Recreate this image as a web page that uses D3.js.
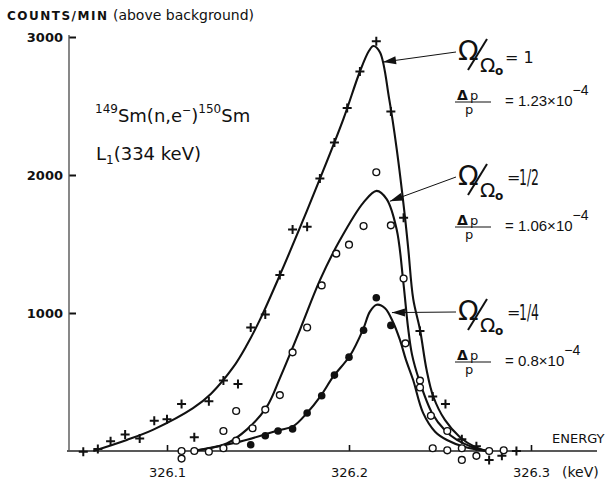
<!DOCTYPE html>
<html>
<head>
<meta charset="utf-8">
<script src="https://cdn.jsdelivr.net/npm/d3@7"></script>
<style>
  body { margin: 0; background: #fff; }
  svg text { font-family: "DejaVu Sans", sans-serif; fill: #111; }
</style>
</head>
<body>
<div id="chart"></div>
<script>
// measured points, (energy keV, counts/min)
var plusPts = [
  [326.054, -5], [326.062, 15], [326.069, 70], [326.077, 120], [326.085, 90],
  [326.093, 220], [326.100, 230], [326.108, 340], [326.115, 100], [326.123, 360],
  [326.131, 510], [326.139, 485], [326.146, 895], [326.154, 990], [326.162, 1275],
  [326.169, 1605], [326.177, 1625], [326.184, 1975], [326.192, 2235], [326.199, 2485],
  [326.206, 2750], [326.215, 2970], [326.223, 2460], [326.230, 1690], [326.239, 870],
  [326.246, 395], [326.253, 340], [326.262, 85], [326.270, 35], [326.277, -65],
  [326.284, -35], [326.292, 0]
];

var openPts = [
  [326.108, 0], [326.108, -55], [326.115, 0], [326.123, -5], [326.131, 20],
  [326.131, 145], [326.138, 75], [326.138, 290], [326.147, 165], [326.154, 300],
  [326.162, 405], [326.169, 715], [326.177, 895], [326.185, 1200], [326.193, 1430],
  [326.200, 1495], [326.208, 1630], [326.215, 2020], [326.223, 1635], [326.230, 1250],
  [326.231, 780], [326.239, 510], [326.239, 460], [326.245, 255], [326.254, 145],
  [326.246, 20], [326.254, 5], [326.262, 20], [326.262, -65], [326.270, -35],
  [326.277, 0], [326.285, 5]
];

var filledPts = [
  [326.146, 45], [326.154, 110], [326.161, 145], [326.169, 160], [326.177, 275],
  [326.185, 400], [326.192, 550], [326.200, 680], [326.208, 875], [326.215, 1110],
  [326.223, 910]
];

// hand-drawn fit lines
var fitFull = [
  [326.0595, 0], [326.0779, 80], [326.0925, 155], [326.1143, 310], [326.1242, 415],
  [326.1364, 607], [326.1438, 766], [326.1511, 952], [326.1617, 1265], [326.1731, 1620],
  [326.1841, 1975], [326.1969, 2405], [326.2060, 2750], [326.2110, 2900], [326.2134, 2935],
  [326.2170, 2890], [326.2221, 2550], [326.2262, 2190], [326.2308, 1690], [326.2326, 1460],
  [326.2353, 1100], [326.2390, 880], [326.2426, 590], [326.2463, 395], [326.2527, 225],
  [326.2610, 100], [326.2692, 30], [326.2758, 0]
];

var fitHalf = [
  [326.1145, 0], [326.1328, 55], [326.1438, 155], [326.1548, 320], [326.1621, 530],
  [326.1731, 880], [326.1841, 1240], [326.1951, 1530], [326.2079, 1800], [326.2152, 1885],
  [326.2207, 1825], [326.2262, 1605], [326.2298, 1230], [326.2324, 900], [326.2346, 700],
  [326.2385, 516], [326.2456, 276], [326.2527, 150], [326.2593, 80], [326.2676, 29],
  [326.2758, 0]
];

var fitQuarter = [
  [326.1163, 5], [326.1401, 68], [326.1612, 150], [326.1694, 180], [326.1768, 274],
  [326.1845, 400], [326.1914, 540], [326.2005, 690], [326.2077, 880], [326.2115, 1010],
  [326.2152, 1060], [326.2198, 1035], [326.2244, 928], [326.2280, 805], [326.2313, 660],
  [326.2352, 516], [326.2407, 276], [326.2473, 140], [326.2538, 80], [326.2637, 29],
  [326.2758, 0]
];

var xTicks = [326.1, 326.2, 326.3];
var yTicks = [1000, 2000, 3000];

var ratioLabels = ['1', '1/2', '1/4'];
var dpLabels = ['1.23', '1.06', '0.8'];
var arrowTips = [[326.2187, 2818], [326.2225, 1810], [326.2236, 1003]];

var settings = {
  width: 607,
  height: 484,
  plot_left: 69,
  axis_right: 597,
  x_range: [167, 531],
  y_range: [451, 37],
  line_width: 2.1,
  plus_size: 4.5,
  dot_r: 3.4,
  label_spots: [[458, 60], [458, 185], [458, 320]]
};

var svg = d3.select('#chart').append('svg')
  .attr('width', settings.width)
  .attr('height', settings.height);

var x = d3.scaleLinear().domain([326.1, 326.3]).range(settings.x_range);
var y = d3.scaleLinear().domain([0, 3000]).range(settings.y_range);

// axes
var xAxis = svg.append('g')
  .attr('transform', 'translate(0,' + y(0) + ')')
  .call(d3.axisBottom(x).tickValues(xTicks)
    .tickSizeInner(-6).tickSizeOuter(0).tickPadding(17)
    .tickFormat(d3.format('.1f')));
xAxis.select('.domain').remove();
xAxis.selectAll('line').attr('stroke', '#111').attr('stroke-width', 1.6);
xAxis.selectAll('text').style('font-size', '13px').style('font-family', '"DejaVu Sans", sans-serif').attr('fill', '#111');

svg.append('line')
  .attr('x1', settings.plot_left - 2).attr('x2', settings.axis_right)
  .attr('y1', y(0)).attr('y2', y(0))
  .attr('stroke', '#222').attr('stroke-width', 1.4);

var yAxis = svg.append('g')
  .attr('transform', 'translate(' + settings.plot_left + ',0)')
  .call(d3.axisLeft(y).tickValues(yTicks)
    .tickSizeInner(-7).tickSizeOuter(0).tickPadding(6)
    .tickFormat(d3.format('d')));
yAxis.select('.domain').remove();
yAxis.selectAll('line').attr('stroke', '#111').attr('stroke-width', 2);
yAxis.selectAll('text').style('font-size', '13px').style('font-weight', 'bold')
  .style('font-family', '"DejaVu Sans", sans-serif').attr('fill', '#111');

svg.append('line')
  .attr('x1', settings.plot_left).attr('x2', settings.plot_left)
  .attr('y1', y(3000) - 2).attr('y2', y(0))
  .attr('stroke', '#555').attr('stroke-width', 1.4);

svg.append('text')
  .attr('x', 562).attr('y', 477)
  .style('font-size', '14px')
  .text('(keV)');

svg.append('text')
  .attr('x', 552).attr('y', 443)
  .style('font-size', '13px')
  .text('ENERGY');

var title = svg.append('text').attr('x', 7).attr('y', 20);
title.append('tspan').style('font-size', '12px').style('font-weight', 'bold')
  .style('letter-spacing', '1.5px').text('COUNTS/MIN');
title.append('tspan').style('font-size', '14px').text(' (above background)');

// reaction label
var reac = svg.append('text').attr('x', 95).attr('y', 122);
reac.append('tspan').style('font-size', '12px').attr('dy', -9).text('149');
reac.append('tspan').style('font-size', '18px').attr('dy', 9).text('Sm(n,e');
reac.append('tspan').style('font-size', '11px').attr('dy', -8).text('−');
reac.append('tspan').style('font-size', '18px').attr('dy', 8).text(')');
reac.append('tspan').style('font-size', '12px').attr('dy', -9).text('150');
reac.append('tspan').style('font-size', '18px').attr('dy', 9).text('Sm');

var line1 = svg.append('text').attr('x', 96).attr('y', 160);
line1.append('tspan').style('font-size', '18px').text('L');
line1.append('tspan').style('font-size', '12px').attr('dy', 4).text('1');
line1.append('tspan').style('font-size', '18px').attr('dy', -4).text('(334 keV)');

// fit lines
var line = d3.line()
  .x(function(d) { return x(d[0]); })
  .y(function(d) { return y(d[1]); })
  .curve(d3.curveCatmullRom.alpha(0.5));

[fitFull, fitHalf, fitQuarter].forEach(function(fit) {
  svg.append('path')
    .attr('d', line(fit))
    .attr('fill', 'none')
    .attr('stroke', '#111')
    .attr('stroke-width', settings.line_width);
});

// points
var s = settings.plus_size;
svg.selectAll('path.plus')
  .data(plusPts)
  .enter().append('path')
  .attr('class', 'plus')
  .attr('d', 'M' + (-s) + ',0H' + s + 'M0,' + (-s) + 'V' + s)
  .attr('transform', function(d) { return 'translate(' + x(d[0]) + ',' + y(d[1]) + ')'; })
  .attr('stroke', '#111')
  .attr('stroke-width', 2);

svg.selectAll('circle.open')
  .data(openPts)
  .enter().append('circle')
  .attr('class', 'open')
  .attr('cx', function(d) { return x(d[0]); })
  .attr('cy', function(d) { return y(d[1]); })
  .attr('r', settings.dot_r)
  .attr('fill', '#fff')
  .attr('stroke', '#111')
  .attr('stroke-width', 1.4);

svg.selectAll('circle.filled')
  .data(filledPts)
  .enter().append('circle')
  .attr('class', 'filled')
  .attr('cx', function(d) { return x(d[0]); })
  .attr('cy', function(d) { return y(d[1]); })
  .attr('r', settings.dot_r + 0.4)
  .attr('fill', '#111');

// Omega annotations with arrows
ratioLabels.forEach(function(ratio, i) {
  var spot = settings.label_spots[i];
  var tx = x(arrowTips[i][0]), ty = y(arrowTips[i][1]);
  var sx = spot[0] - 2, sy = spot[1] - 8;

  svg.append('line')
    .attr('x1', sx).attr('y1', sy).attr('x2', tx).attr('y2', ty)
    .attr('stroke', '#111').attr('stroke-width', 1);

  var ang = Math.atan2(ty - sy, tx - sx);
  var len = 13, hw = 4;
  var bx = tx - len * Math.cos(ang), by = ty - len * Math.sin(ang);
  var px = -Math.sin(ang) * hw, py = Math.cos(ang) * hw;
  svg.append('path')
    .attr('d', 'M' + tx + ',' + ty + 'L' + (bx + px) + ',' + (by + py) + 'L' + (bx - px) + ',' + (by - py) + 'Z')
    .attr('fill', '#111');

  var g = svg.append('g').attr('transform', 'translate(' + spot[0] + ',' + spot[1] + ')');
  g.append('text').attr('x', 0).attr('y', 0).style('font-size', '27px').text('Ω');
  g.append('line')
    .attr('x1', 10).attr('y1', 10).attr('x2', 29).attr('y2', -21)
    .attr('stroke', '#111').attr('stroke-width', 2);
  g.append('text').attr('x', 22).attr('y', 12).style('font-size', '20px').text('Ω');
  g.append('text').attr('x', 37).attr('y', 15).style('font-size', '12px').style('font-weight', 'bold').text('o');
  if (ratio.length > 1) {
    g.append('text').attr('x', 49).attr('y', -2).style('font-size', '16px').text('=');
    g.append('text').attr('x', 61).attr('y', 0).style('font-size', '22px')
      .attr('textLength', 20).attr('lengthAdjust', 'spacingAndGlyphs').text(ratio);
  } else {
    g.append('text').attr('x', 47).attr('y', 3).style('font-size', '16px').text('= ' + ratio);
  }

  g.append('text').attr('x', -1).attr('y', 40).style('font-size', '14px').style('font-weight', 'bold').text('Δ');
  g.append('text').attr('x', 12).attr('y', 40).style('font-size', '13px').text('p');
  g.append('line')
    .attr('x1', -3).attr('x2', 33).attr('y1', 42).attr('y2', 42)
    .attr('stroke', '#111').attr('stroke-width', 1.1);
  g.append('text').attr('x', 7).attr('y', 54).style('font-size', '13px').text('p');

  var eq = g.append('text').attr('x', 47).attr('y', 46)
    .style('font-family', '"Liberation Sans", sans-serif').style('font-size', '15px');
  eq.append('tspan').text('= ' + dpLabels[i] + '×10');
  eq.append('tspan').attr('dy', -11).style('font-size', '14px').text('−4');
});
</script>
</body>
</html>
